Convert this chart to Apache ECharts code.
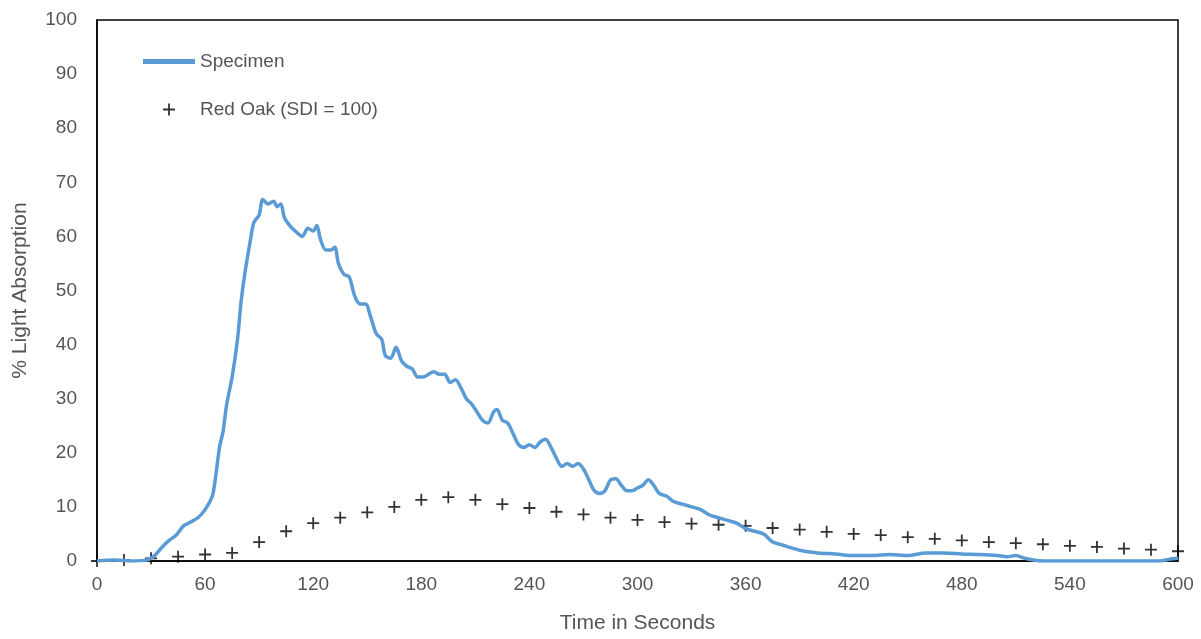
<!DOCTYPE html>
<html style="height: 100%">
<head><meta charset="utf-8"><title>Light Absorption</title></head>
<body style="height: 100%; margin: 0; background: #fff">
<div id="container" style="height: 100%"></div>
<script src="https://cdn.jsdelivr.net/npm/echarts@6/dist/echarts.min.js"></script>
<script>
var specimenTime = [0,10,20,28,32,36,40,44,48,52,56,60,64,66,68,70,72,75,78,80,82,85,87,90,92,95,98,100,102,104,107,110,114,117,120,122,124,127,130,132,134,137,140,143,146,149,152,155,158,160,163,166,169,172,175,178,181,184,187,190,193,196,199,202,205,208,211,214,217,220,222,225,228,231,234,237,240,243,246,249,252,255,258,261,264,267,270,273,276,279,282,285,288,291,294,297,300,303,306,309,312,316,320,325,330,335,340,345,350,355,360,365,370,375,380,390,400,410,420,430,440,450,460,470,480,490,500,505,510,515,525,540,560,580,590,595,600];
var specimenValue = [0,0.2,0,0.2,1,2.5,3.8,4.8,6.5,7.2,8,9.5,12,16,21,24,29,34,41,48,53,59,62.5,64,66.8,66,66.5,65.5,66,63.5,62,61,60,61.5,61,62,59.5,57.5,57.5,58,55,53,52.5,49,47.5,47.5,45,42,41,38,37.5,39.5,37,36,35.5,34,34,34.5,35,34.5,34.5,33,33.5,32,30,29,27.5,26,25.5,27.5,28,26,25.5,23.5,21.5,21,21.5,21,22,22.5,21,19,17.5,18,17.5,18,17,15,13,12.5,13,15,15.2,14,13,13,13.5,14,15,14,12.5,12,11,10.5,10,9.5,8.5,8,7.5,7,6,5.5,5,3.5,3,2,1.5,1.3,1,1,1.2,1,1.5,1.5,1.3,1.2,1,0.8,1,0.5,0,0,0,0,0,0.3,0.5];
var oakTime = [0,15,30,45,60,75,90,105,120,135,150,165,180,195,210,225,240,255,270,285,300,315,330,345,360,375,390,405,420,435,450,465,480,495,510,525,540,555,570,585,600];
var oakValue = [0,0.2,0.5,0.8,1.2,1.5,3.5,5.5,7,8,9,10,11.3,11.8,11.3,10.5,9.8,9.1,8.6,8,7.6,7.2,6.9,6.7,6.5,6.1,5.8,5.4,5,4.8,4.4,4.1,3.8,3.5,3.3,3.1,2.8,2.6,2.3,2.1,1.8];

var plus = 'path://M4.25,0H5.75V4.25H10V5.75H5.75V10H4.25V5.75H0V4.25H4.25Z';
var font = '"Liberation Sans", Arial, sans-serif';
var chart = echarts.init(document.getElementById('container'));
chart.setOption({
  textStyle: { fontFamily: font },
  grid: { left: 97, right: 23, top: 20, bottom: 77, show: true, borderColor: '#000', borderWidth: 1.5 },
  legend: {
    orient: 'vertical', left: 138, top: 47, itemGap: 29,
    textStyle: { fontSize: 19, color: '#555', fontFamily: font },
    data: [
      { name: 'Specimen', icon: 'path://M0,0H10V1H0Z', itemStyle: { color: '#5b9bd5' } },
      { name: 'Red Oak (SDI = 100)', icon: plus, itemStyle: { color: '#000' } }
    ],
    itemWidth: 52, itemHeight: 12
  },
  xAxis: {
    type: 'value', min: 0, max: 600, interval: 60,
    name: 'Time in Seconds', nameLocation: 'middle', nameGap: 52,
    nameTextStyle: { fontSize: 21, color: '#555' },
    axisLine: { lineStyle: { color: '#000', width: 1.5 } },
    axisTick: { show: false }, splitLine: { show: false },
    axisLabel: { fontSize: 19, color: '#555', margin: 14 }
  },
  yAxis: {
    type: 'value', min: 0, max: 100, interval: 10,
    name: '% Light Absorption', nameLocation: 'middle', nameGap: 66,
    nameTextStyle: { fontSize: 21, color: '#555' },
    axisLine: { show: true, lineStyle: { color: '#000', width: 1.5 } },
    axisTick: { show: false }, splitLine: { show: false },
    axisLabel: { fontSize: 19, color: '#555', margin: 20 }
  },
  series: [
    {
      name: 'Specimen', type: 'line', showSymbol: false, smooth: 0.3,
      lineStyle: { color: '#5b9bd5', width: 3.5 }, itemStyle: { color: '#5b9bd5' },
      data: specimenTime.map(function (t, i) { return [t, specimenValue[i]]; })
    },
    {
      name: 'Red Oak (SDI = 100)', type: 'scatter', symbol: plus, symbolSize: 12,
      itemStyle: { color: '#000' },
      data: oakTime.map(function (t, i) { return [t, oakValue[i]]; })
    }
  ]
});
</script>
</body>
</html>
